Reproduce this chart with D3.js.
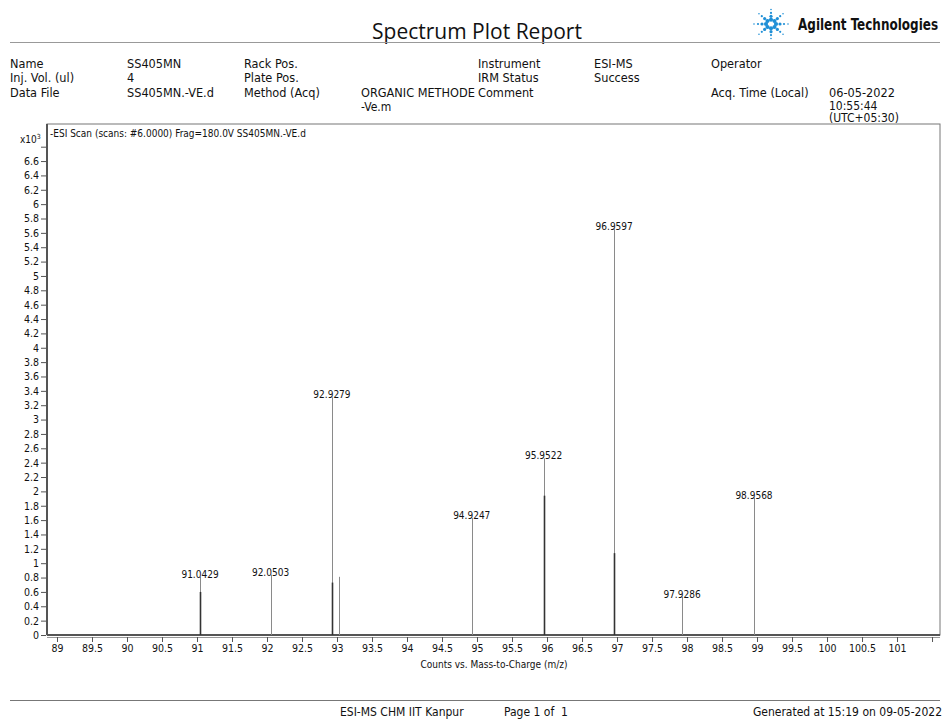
<!DOCTYPE html>
<html>
<head>
<meta charset="utf-8">
<script src="https://cdn.jsdelivr.net/npm/d3@7"></script>
<style>
  html, body { margin: 0; padding: 0; background: #fff; }
  svg text { font-family: "DejaVu Sans Condensed", "DejaVu Sans", sans-serif; fill: #111; }
</style>
</head>
<body>
<svg id="page" width="948" height="720"></svg>
<script>
// Peak list: m/z, apex counts (x10^3), and the height of the adjacent profile point
const peakMz      = [91.0429, 92.0503, 92.9279, 93.0330, 94.9247, 95.9522, 96.9597, 97.9286, 98.9568];
const peakCounts  = [0.81,    0.84,    3.31,    0.81,    1.63,    2.46,    5.65,    0.53,    1.91];
const shoulderCounts = [0.60, 0.84,    0.73,    0.81,    1.63,    1.94,    1.14,    0.53,    1.91];
const peakLabels  = ["91.0429", "92.0503", "92.9279", "", "94.9247", "95.9522", "96.9597", "97.9286", "98.9568"];

const xTicks = d3.range(89, 101.51, 0.5);
const xTickLabels = ["89","89.5","90","90.5","91","91.5","92","92.5","93","93.5","94","94.5","95","95.5","96","96.5","97","97.5","98","98.5","99","99.5","100","100.5","101",""];
const yTicks = d3.range(0, 6.81, 0.2);

const headerRows = [
  ["Name", "SS405MN", "Rack Pos.", "", "Instrument", "ESI-MS", "Operator", ""],
  ["Inj. Vol. (ul)", "4", "Plate Pos.", "", "IRM Status", "Success", "", ""],
  ["Data File", "SS405MN.-VE.d", "Method (Acq)", "ORGANIC METHODE\n-Ve.m", "Comment", "", "Acq. Time (Local)", "06-05-2022\n10:55:44\n(UTC+05:30)"]
];
const headerCols = [10, 127, 244, 361, 478, 594, 711, 829];

const svg = d3.select("#page");

// ---- page header ----
svg.append("text").attr("x", 477).attr("y", 39).attr("text-anchor", "middle")
  .style("font-family", "'Open Sans', sans-serif").style("font-size", "21px").text("Spectrum Plot Report");
svg.append("line").attr("x1", 10).attr("x2", 940).attr("y1", 42.5).attr("y2", 42.5)
  .attr("stroke", "#999").attr("stroke-width", 1);

// Agilent spark logo
const logo = svg.append("g").attr("transform", "translate(771,24)");
const dirs = d3.range(8).map(i => i * Math.PI / 4);
dirs.forEach(a => {
  [[5, 2.1], [9, 1.6], [13, 1.1], [17, 0.8]].forEach(([r, s]) => {
    logo.append("circle").attr("cx", Math.cos(a) * r).attr("cy", Math.sin(a) * r * 0.85)
      .attr("r", s).attr("fill", "#1f8fd6");
  });
});
svg.append("g").attr("transform", "translate(798,30) scale(0.89,1)")
  .append("text").attr("x", 0).attr("y", 0)
  .style("font-family", "'DejaVu Sans Condensed', sans-serif")
  .style("font-weight", "bold").style("font-size", "15px").text("Agilent Technologies");

// ---- sample information block ----
const rowY = [68, 82, 97];
headerRows.forEach((row, ri) => {
  row.forEach((cell, ci) => {
    if (!cell) return;
    const lines = cell.split("\n");
    const step = ci === 7 ? 12.5 : 14;
    lines.forEach((line, li) => {
      svg.append("text").attr("x", headerCols[ci]).attr("y", rowY[ri] + li * step)
        .style("font-size", lines.length > 1 && li > 0 ? "12px" : "12.6px").text(line);
    });
  });
});

// ---- spectrum plot ----
const frame = {left: 47, top: 124, right: 940, bottom: 635};
const x = d3.scaleLinear().domain([88.857, 101.614]).range([frame.left, frame.right]);
const y = d3.scaleLinear().domain([0, 7.116]).range([frame.bottom, frame.top]);

svg.append("rect").attr("x", frame.left).attr("y", frame.top)
  .attr("width", frame.right - frame.left).attr("height", frame.bottom - frame.top)
  .attr("fill", "none").attr("stroke", "#777").attr("stroke-width", 1);
svg.append("line").attr("x1", frame.left).attr("x2", frame.left).attr("y1", frame.top).attr("y2", frame.bottom)
  .attr("stroke", "#555").attr("stroke-width", 2);
svg.append("line").attr("x1", frame.left).attr("x2", frame.right).attr("y1", frame.bottom).attr("y2", frame.bottom)
  .attr("stroke", "#555").attr("stroke-width", 2);

// y axis
const yAxis = d3.axisLeft(y).tickValues(yTicks).tickSize(5).tickPadding(2)
  .tickFormat(d => Math.abs(d - 6.8) < 1e-6 ? "" : d3.format("~g")(+d.toFixed(1)));
const gy = svg.append("g").attr("transform", `translate(${frame.left - 1},0)`).call(yAxis);
gy.select(".domain").remove();
gy.selectAll("line").attr("stroke", "#555");
gy.selectAll("text").style("font-size", "10.5px").style("font-family", "'DejaVu Sans Condensed', sans-serif").attr("fill", "#222");

const scaleLbl = svg.append("text").attr("x", 20).attr("y", 143).style("font-size", "10px");
scaleLbl.append("tspan").text("x10");
scaleLbl.append("tspan").attr("dy", -4).style("font-size", "7px").text("3");

// x axis
const xAxis = d3.axisBottom(x).tickValues(xTicks).tickSize(5).tickPadding(3)
  .tickFormat((d, i) => xTickLabels[i]);
const gx = svg.append("g").attr("transform", `translate(0,${frame.bottom + 2})`).call(xAxis);
gx.select(".domain").attr("stroke", "#999").attr("d", `M${frame.left},0.5H${frame.right}`);
gx.selectAll("line").attr("stroke", "#555");
gx.selectAll("text").style("font-size", "10.5px").style("font-family", "'DejaVu Sans Condensed', sans-serif").attr("fill", "#222");

svg.append("text").attr("x", 494).attr("y", 668).attr("text-anchor", "middle")
  .style("font-size", "10px").text("Counts vs. Mass-to-Charge (m/z)");

svg.append("text").attr("x", 50).attr("y", 137).style("font-size", "10px")
  .text("-ESI Scan (scans: #6.0000) Frag=180.0V SS405MN.-VE.d");

// peaks
const peaks = peakMz.map((mz, i) => ({mz, c: peakCounts[i], s: shoulderCounts[i], label: peakLabels[i]}));
const pk = svg.append("g");
pk.selectAll("line.apex").data(peaks).join("line").attr("class", "apex")
  .attr("x1", d => Math.round(x(d.mz)) + 0.5).attr("x2", d => Math.round(x(d.mz)) + 0.5)
  .attr("y1", y(0)).attr("y2", d => y(d.c))
  .attr("stroke", "#8a8a8a").attr("stroke-width", 1);
pk.selectAll("line.shoulder").data(peaks.filter(d => d.s < d.c)).join("line").attr("class", "shoulder")
  .attr("x1", d => Math.round(x(d.mz)) + 0.5).attr("x2", d => Math.round(x(d.mz)) + 0.5)
  .attr("y1", y(0)).attr("y2", d => y(d.s))
  .attr("stroke", "#333").attr("stroke-width", 1.6);
pk.selectAll("text").data(peaks.filter(d => d.label)).join("text")
  .attr("x", d => x(d.mz)).attr("y", d => y(d.c) + 1).attr("text-anchor", "middle")
  .style("font-size", "10px").text(d => d.label);

// ---- footer ----
svg.append("line").attr("x1", 10).attr("x2", 940).attr("y1", 700.5).attr("y2", 700.5)
  .attr("stroke", "#777").attr("stroke-width", 1);
const footStyle = t => t.style("font-size", "12px").style("font-family", "'DejaVu Sans Condensed', sans-serif");
footStyle(svg.append("text").attr("x", 340).attr("y", 716).text("ESI-MS CHM IIT Kanpur"));
footStyle(svg.append("text").attr("x", 504).attr("y", 716).text("Page 1 of  1").attr("xml:space", "preserve"));
footStyle(svg.append("text").attr("x", 942).attr("y", 716).attr("text-anchor", "end").text("Generated at 15:19 on 09-05-2022"));
</script>
</body>
</html>
